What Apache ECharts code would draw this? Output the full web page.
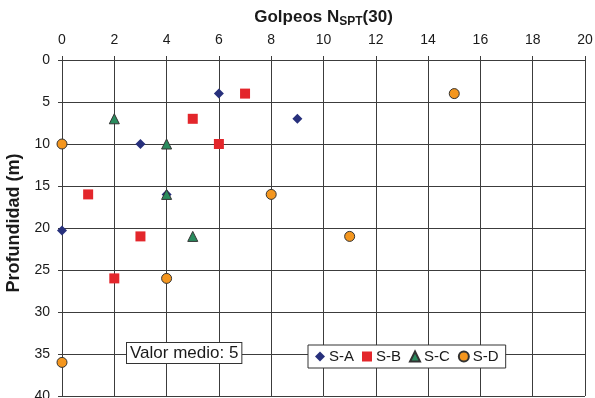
<!DOCTYPE html>
<html>
<head>
<meta charset="utf-8">
<script src="https://cdn.jsdelivr.net/npm/echarts@6/dist/echarts.min.js"></script>
<style>
  html, body { margin: 0; padding: 0; background: #fff; }
  #chart { width: 595px; height: 398px; }
</style>
</head>
<body>
<div id="chart"></div>
<script>
// SPT blow counts N(30) against depth for each borehole
const seriesNames = ['S-A', 'S-B', 'S-C', 'S-D'];
const sA = [[6, 4], [9, 7], [3, 10], [4, 16], [0, 20.3]];
const sB = [[7, 4], [5, 7], [6, 10], [1, 16], [3, 21], [2, 26]];
const sC = [[2, 7], [4, 10], [4, 16], [5, 21]];
const sD = [[15, 4], [0, 10], [8, 16], [11, 21], [4, 26], [0, 36]];
const meanValue = 5;

const FONT = '"Liberation Sans", Arial, sans-serif';
const GRID_COLOR = '#3c3c3c';

const chart = echarts.init(document.getElementById('chart'), null, { renderer: 'canvas' });

function scatter(name, data, symbol, size, color, outline) {
  return {
    name: name,
    type: 'scatter',
    data: data,
    symbol: symbol,
    symbolSize: size,
    itemStyle: {
      color: color,
      borderColor: outline ? '#333' : color,
      borderWidth: outline ? 1 : 0,
      opacity: 1
    },
    emphasis: { disabled: true },
    z: 5
  };
}

chart.setOption({
  animation: false,
  backgroundColor: '#fff',
  textStyle: { fontFamily: FONT },
  grid: { left: 62, right: 10, top: 60, bottom: 2, containLabel: false, outerBoundsMode: 'none' },
  xAxis: {
    type: 'value',
    position: 'top',
    min: 0, max: 20, interval: 2,
    name: '{b|Golpeos N}{s|SPT}{b|(30)}',
    nameLocation: 'middle',
    nameGap: 28,
    nameTextStyle: {
      rich: {
        b: { fontFamily: FONT, fontSize: 17, fontWeight: 'bold', color: '#1a1a1a' },
        s: { fontFamily: FONT, fontSize: 12, fontWeight: 'bold', color: '#1a1a1a', verticalAlign: 'bottom', padding: [9, 0, 0, 0] }
      }
    },
    axisLine: { show: true, lineStyle: { color: GRID_COLOR, width: 1 } },
    axisTick: { show: true, length: 4, lineStyle: { color: GRID_COLOR } },
    axisLabel: { fontFamily: FONT, fontSize: 14, color: '#1a1a1a', margin: 13 },
    splitLine: { show: true, lineStyle: { color: GRID_COLOR, width: 1 } }
  },
  yAxis: {
    type: 'value',
    inverse: true,
    min: 0, max: 40, interval: 5,
    name: 'Profundidad (m)',
    nameLocation: 'middle',
    nameGap: 34,
    nameTextStyle: { fontFamily: FONT, fontSize: 18, fontWeight: 'bold', color: '#1a1a1a', padding: [0, 0, 0, 10] },
    axisLine: { show: true, lineStyle: { color: GRID_COLOR, width: 1 } },
    axisTick: { show: true, length: 4, lineStyle: { color: GRID_COLOR } },
    axisLabel: { fontFamily: FONT, fontSize: 14, color: '#1a1a1a', margin: 12 },
    splitLine: { show: true, lineStyle: { color: GRID_COLOR, width: 1 } }
  },
  legend: {
    data: seriesNames,
    left: 308,
    top: 345,
    orient: 'horizontal',
    padding: [4, 7, 4, 7],
    itemGap: 8,
    itemWidth: 10,
    itemHeight: 10,
    backgroundColor: '#fff',
    borderColor: '#333',
    borderWidth: 1,
    borderRadius: 0,
    textStyle: { fontFamily: FONT, fontSize: 15, color: '#1a1a1a', padding: [0, 0, 0, -1] },
    selectedMode: false
  },
  graphic: [{
    type: 'text',
    left: 126,
    top: 342,
    z: 10,
    style: {
      text: 'Valor medio: ' + meanValue,
      fontFamily: FONT,
      fontSize: 17,
      fill: '#1a1a1a',
      backgroundColor: '#fff',
      borderColor: '#333',
      borderWidth: 1,
      padding: [2, 3, 1, 3]
    }
  }],
  series: [
    scatter('S-A', sA, 'diamond', 10, '#27307c', false),
    scatter('S-B', sB, 'rect', 10, '#e3262b', false),
    scatter('S-C', sC, 'triangle', 10, '#2a8c5e', true),
    scatter('S-D', sD, 'circle', 10, '#f4961e', true)
  ]
});
</script>
</body>
</html>
